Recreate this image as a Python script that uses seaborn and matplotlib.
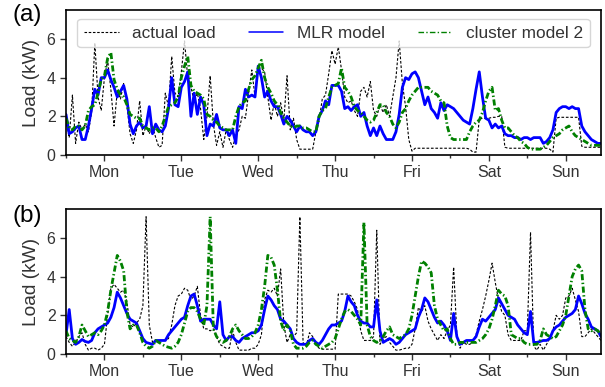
import numpy as np
import pandas as pd
import matplotlib
matplotlib.use("Agg")
import matplotlib.pyplot as plt
import seaborn as sns

# ---------------- data (hourly, Mon 00:00 .. Sun 23:00) ----------------
day_labels = ["Mon", "Tue", "Wed", "Thu", "Fri", "Sat", "Sun"]
series_names = ["actual load", "MLR model", "cluster model 2"]

# panel (a)
actual_a = [
    1.8, 0.9, 3.1, 0.6, 1.7, 1.3, 1.6, 1.2, 2.2, 5.8, 3.0, 2.3, 4.0, 4.9, 3.4, 1.5, 3.3, 2.9, 3.7, 2.6, 1.1, 0.6, 1.3, 2.8,
    1.0, 1.5, 1.1, 1.5, 0.9, 0.4, 0.5, 3.2, 2.5, 5.1, 3.2, 3.0, 4.3, 5.9, 4.0, 3.5, 2.8, 3.2, 2.4, 0.8, 2.0, 4.1, 1.6, 0.5,
    1.2, 0.4, 1.3, 0.8, 0.4, 1.0, 1.3, 2.0, 1.9, 3.2, 4.4, 3.0, 4.5, 4.5, 4.3, 3.0, 1.8, 2.7, 2.0, 2.7, 1.8, 4.1, 1.3, 1.9,
    0.8, 0.3, 0.3, 0.3, 0.3, 0.3, 1.2, 1.8, 2.9, 3.1, 4.2, 5.4, 4.7, 5.6, 4.4, 3.0, 2.7, 2.8, 2.3, 2.0, 3.3, 3.5, 3.0, 3.8,
    2.3, 2.0, 2.6, 2.2, 2.6, 2.0, 3.0, 4.0, 5.9, 3.7, 2.5, 0.8, 0.2, 0.35, 0.35, 0.35, 0.35, 0.35, 0.35, 0.35, 0.35, 0.35, 0.35, 0.35,
    0.35, 0.35, 0.35, 0.35, 0.35, 0.35, 0.3, 0.15, 0.15, 1.85, 1.9, 1.9, 1.9, 1.95, 1.95, 2.0, 2.0, 0.4, 0.35, 0.35, 0.35, 0.35, 0.35, 0.35,
    0.35, 0.35, 0.35, 0.35, 0.35, 0.35, 0.35, 0.3, 0.15, 1.9, 1.95, 1.95, 1.95, 1.95, 1.95, 1.95, 1.95, 0.45, 0.4, 0.4, 0.4, 0.4, 0.4, 0.4,
]
mlr_a = [
    2.1, 1.1, 1.2, 1.4, 1.5, 0.8, 0.8, 1.5, 2.4, 3.4, 3.1, 4.0, 4.0, 4.4, 3.9, 3.5, 3.0, 3.3, 3.6, 2.9, 1.6, 1.1, 1.5, 1.7,
    1.4, 1.5, 2.5, 1.1, 1.6, 1.3, 1.2, 1.5, 2.4, 4.0, 2.6, 2.5, 3.5, 3.8, 4.3, 2.0, 3.2, 2.1, 3.0, 2.6, 1.0, 1.6, 1.5, 2.1,
    1.4, 1.3, 1.3, 1.0, 1.3, 0.6, 2.5, 2.4, 3.4, 3.0, 3.1, 3.0, 4.6, 4.0, 3.0, 3.3, 2.8, 2.5, 2.5, 2.1, 1.6, 2.0, 1.8, 1.5,
    1.2, 1.5, 1.3, 1.2, 1.2, 1.0, 1.2, 2.0, 2.3, 2.8, 2.6, 3.6, 3.6, 3.6, 3.3, 2.4, 2.5, 2.3, 2.5, 2.6, 2.0, 2.2, 1.5, 1.0,
    1.4, 1.0, 1.5, 1.1, 0.8, 0.8, 0.8, 1.2, 2.1, 3.5, 4.0, 3.9, 4.2, 4.3, 4.0, 3.3, 2.6, 3.0, 2.4, 2.2, 1.9, 2.7, 2.3, 2.6,
    2.5, 2.4, 2.2, 2.0, 1.8, 1.7, 1.6, 2.4, 3.4, 4.3, 3.0, 1.9, 1.8, 1.4, 1.6, 1.4, 1.5, 1.1, 1.0, 1.0, 0.9, 0.9, 0.8, 0.9,
    0.9, 0.8, 0.9, 0.9, 0.9, 0.6, 0.7, 0.9, 1.3, 2.2, 2.4, 2.5, 2.5, 2.4, 2.5, 2.4, 2.4, 1.5, 1.2, 1.0, 0.8, 0.7, 0.6, 0.6,
]
cluster_a = [
    1.9, 1.4, 1.3, 1.5, 1.5, 1.3, 1.5, 2.3, 2.5, 2.6, 3.2, 3.9, 4.1, 5.0, 5.3, 3.9, 3.4, 3.1, 3.0, 2.6, 2.1, 2.0, 1.9, 1.9,
    1.5, 1.4, 1.3, 1.4, 1.4, 1.2, 1.5, 2.0, 2.5, 2.6, 2.7, 3.0, 4.0, 4.6, 5.1, 3.6, 3.3, 3.2, 3.1, 2.9, 2.1, 2.0, 1.8, 1.7,
    1.5, 1.4, 1.3, 1.3, 1.3, 2.0, 2.5, 2.7, 2.8, 3.4, 3.9, 4.1, 4.5, 4.9, 4.0, 3.5, 3.2, 2.8, 2.6, 2.2, 1.9, 1.7, 1.5, 1.4,
    1.5, 1.5, 1.4, 1.4, 1.3, 1.2, 1.2, 2.0, 2.3, 2.4, 3.0, 3.5, 3.6, 3.7, 4.5, 3.5, 3.3, 3.0, 2.5, 2.3, 2.2, 2.0, 1.8, 1.7,
    1.8, 2.2, 2.6, 2.6, 2.2, 2.0, 1.6, 1.4, 1.7, 2.2, 2.4, 2.8, 3.1, 3.3, 3.5, 3.5, 3.5, 3.5, 3.3, 3.2, 3.1, 2.8, 2.7, 1.5,
    0.9, 0.8, 0.8, 0.8, 0.8, 0.8, 1.2, 1.5, 1.7, 1.8, 2.2, 2.8, 3.3, 3.5, 2.3, 2.4, 1.8, 1.4, 1.4, 1.2, 1.0, 0.9, 0.7, 0.6,
    0.4, 0.3, 0.3, 0.3, 0.3, 0.4, 0.5, 0.7, 0.9, 1.0, 1.1, 1.3, 1.4, 1.5, 1.2, 1.0, 0.9, 0.8, 0.7, 0.6, 0.5, 0.5, 0.5, 0.5,
]

# panel (b)
actual_b = [
    0.9, 0.6, 0.4, 0.6, 0.9, 1.1, 0.5, 0.2, 0.3, 0.3, 0.2, 0.3, 0.5, 2.0, 3.4, 3.6, 3.4, 3.2, 3.3, 2.7, 1.5, 1.4, 1.6, 1.8,
    2.5, 7.1, 1.5, 0.6, 0.7, 0.7, 0.7, 0.7, 0.8, 1.5, 2.5, 3.0, 3.1, 3.4, 3.3, 2.8, 3.0, 3.5, 2.0, 1.3, 1.3, 1.2, 1.3, 0.9,
    0.5, 0.4, 0.3, 0.3, 1.2, 0.6, 0.2, 0.2, 0.2, 0.2, 0.3, 0.3, 0.5, 1.0, 2.8, 3.3, 3.2, 3.4, 3.0, 4.4, 1.5, 0.6, 1.0, 0.9,
    1.1, 7.1, 0.6, 0.4, 1.1, 0.9, 0.5, 0.3, 0.25, 0.25, 0.25, 0.25, 0.25, 3.1, 3.1, 3.1, 3.1, 3.0, 2.7, 2.3, 1.2, 0.7, 0.7, 0.7,
    0.9, 6.4, 0.5, 0.8, 0.9, 0.6, 0.4, 0.2, 0.2, 0.25, 0.3, 0.3, 0.5, 1.3, 2.4, 2.2, 2.5, 1.7, 1.3, 1.0, 0.7, 1.0, 0.8, 1.2,
    1.5, 4.5, 1.0, 0.3, 0.6, 0.5, 0.5, 0.6, 1.0, 1.7, 2.3, 3.0, 3.8, 4.7, 3.7, 2.8, 2.2, 2.0, 1.0, 0.7, 0.7, 0.7, 0.7, 1.2,
    1.2, 6.3, 0.4, 0.2, 0.5, 0.2, 0.5, 0.8, 1.2, 2.0, 1.8, 2.0, 2.9, 3.0, 3.4, 2.8, 2.2, 0.9, 0.9, 1.1, 1.3, 1.1, 0.9, 0.7,
]
mlr_b = [
    1.0, 2.3, 0.8, 0.5, 0.6, 0.75, 0.65, 0.6, 0.7, 1.1, 1.3, 1.4, 1.5, 1.6, 1.9, 2.4, 3.2, 2.9, 2.5, 2.1, 1.8, 1.7, 1.6, 1.2,
    0.8, 0.6, 0.55, 0.5, 0.7, 0.7, 0.7, 0.7, 1.0, 1.2, 1.4, 1.6, 1.8, 1.9, 2.5, 3.0, 3.1, 2.5, 1.7, 1.8, 1.8, 1.8, 1.5, 1.3,
    2.7, 1.0, 0.7, 0.9, 0.9, 0.7, 0.6, 0.8, 0.9, 1.0, 1.1, 1.1, 1.2, 1.5, 2.3, 3.0, 2.8, 2.5, 2.3, 1.8, 1.7, 1.5, 1.3, 0.8,
    0.6, 0.5, 0.5, 0.5, 0.7, 0.8, 0.6, 0.5, 0.7, 1.0, 1.3, 1.5, 1.5, 1.6, 1.7, 2.2, 3.0, 2.7, 2.5, 2.0, 1.7, 1.6, 1.6, 1.4,
    1.4, 2.8, 1.2, 0.6, 0.7, 0.8, 0.7, 0.5, 0.6, 0.8, 1.0, 1.1, 1.2, 1.3, 1.9, 2.3, 2.9, 2.7, 2.3, 1.9, 1.6, 1.7, 1.5, 1.2,
    0.7, 2.1, 0.9, 0.5, 0.6, 0.7, 0.7, 0.7, 0.9, 1.4, 1.8, 1.7, 1.9, 2.1, 2.3, 2.9, 2.6, 2.3, 2.0, 1.9, 1.8, 1.5, 1.3, 1.1,
    1.0, 2.2, 0.6, 0.6, 0.65, 0.7, 0.7, 0.8, 1.2, 1.4, 1.5, 1.7, 1.9, 2.0, 2.1, 2.3, 3.0, 2.6, 2.1, 1.8, 1.4, 1.3, 1.2, 0.9,
]
cluster_b = [
    1.2, 0.8, 0.7, 0.6, 0.9, 1.5, 1.2, 0.9, 1.0, 1.1, 1.0, 1.2, 1.5, 2.2, 3.3, 4.2, 5.1, 4.8, 4.3, 2.2, 1.3, 1.5, 1.5, 1.1,
    0.6, 0.4, 0.3, 0.4, 0.7, 0.6, 0.5, 0.4, 0.35, 0.3, 0.4, 0.6, 1.0, 1.6, 2.2, 2.4, 2.4, 2.2, 1.8, 1.5, 2.5, 7.1, 1.3, 0.9,
    0.7, 0.6, 0.7, 0.9, 1.3, 1.5, 1.2, 1.0, 0.8, 0.8, 0.9, 1.1, 1.5, 2.3, 3.5, 5.1, 5.0, 4.6, 3.3, 1.7, 1.2, 1.5, 1.2, 0.5,
    0.3, 0.3, 0.3, 0.4, 0.6, 0.7, 0.5, 0.4, 0.3, 0.4, 0.5, 0.6, 0.8, 1.3, 1.8, 2.2, 2.3, 2.2, 2.0, 1.8, 1.5, 6.8, 1.5, 0.9,
    0.7, 0.6, 0.7, 0.9, 1.2, 1.4, 1.0, 0.9, 0.8, 0.9, 1.0, 1.3, 2.0, 3.0, 4.0, 4.8, 4.7, 4.5, 4.2, 2.5, 1.8, 1.5, 1.2, 1.3,
    0.8, 0.5, 0.5, 0.6, 0.6, 0.6, 0.6, 0.6, 0.6, 0.7, 0.8, 1.0, 1.3, 1.8, 2.5, 3.3, 3.1, 3.0, 2.5, 1.0, 0.9, 0.8, 0.8, 0.6,
    0.5, 0.5, 0.5, 0.5, 0.7, 1.3, 1.0, 0.9, 0.8, 0.9, 1.2, 1.5, 2.0, 3.0, 4.0, 4.4, 4.6, 4.3, 2.3, 1.3, 1.2, 1.3, 1.2, 1.0,
]

hours = np.arange(len(actual_a))

# ---------------- style ----------------
sns.set_theme(style="ticks")
plt.rcParams["font.family"] = ["Liberation Sans", "DejaVu Sans"]
plt.rcParams["axes.edgecolor"] = "black"

line_styles = {
    "actual load": dict(color="black", linewidth=0.8, linestyle=(0, (2.4, 1.6))),
    "MLR model": dict(color="#0000ff", linewidth=2.0, linestyle="-"),
    "cluster model 2": dict(color="#008000", linewidth=2.0, linestyle=(0, (2.2, 0.9, 0.5, 0.9))),
}
legend_styles = {
    "actual load": dict(linewidth=0.8, linestyle=(0, (2.3, 1.5))),
    "MLR model": dict(linewidth=1.1, linestyle="-"),
    "cluster model 2": dict(linewidth=1.0, linestyle=(0, (4.0, 1.6, 1.0, 1.6))),
}

W, H = 605, 387
fig = plt.figure(figsize=(W / 100, H / 100), dpi=100)
ax_a = fig.add_axes([66 / W, 1 - 155 / H, (601 - 66) / W, (155 - 10) / H])
ax_b = fig.add_axes([66 / W, 1 - 354 / H, (601 - 66) / W, (354 - 209) / H])

panels = [
    (ax_a, {"actual load": actual_a, "MLR model": mlr_a, "cluster model 2": cluster_a}),
    (ax_b, {"actual load": actual_b, "MLR model": mlr_b, "cluster model 2": cluster_b}),
]

for ax, data in panels:
    df = pd.DataFrame({"hour": hours, **data})
    for name in series_names:
        sns.lineplot(data=df, x="hour", y=name, ax=ax, label=name,
                     errorbar=None, **line_styles[name])
    ax.set_xlim(0, 167)
    ax.set_ylim(0, 7.5)
    ax.set_yticks([0, 2, 4, 6])
    ax.set_xticks(np.arange(12, 168, 24))
    ax.set_xticklabels(day_labels)
    ax.set_xticks(np.arange(0, 168, 24), minor=True)
    ax.tick_params(axis="both", which="major", length=4.5, width=1.0, labelsize=11.5,
                   colors="0.2", pad=3)
    ax.tick_params(axis="x", which="minor", length=2.5, width=1.0, color="0.2")
    ax.set_xlabel("")
    ax.set_ylabel("Load (kW)", fontsize=13.8, color="0.2", labelpad=5)
    for sp in ax.spines.values():
        sp.set_linewidth(1.2)
        sp.set_color("black")

if ax_b.get_legend() is not None:
    ax_b.get_legend().remove()

leg_a = ax_a.legend(loc="upper center", ncol=3, fontsize=12.4, frameon=True,
                    columnspacing=1.9, handlelength=2.0, borderaxespad=0.5)
for t in leg_a.get_texts():
    t.set_color("0.2")
for handle, name in zip(leg_a.legend_handles, series_names):
    handle.set_linewidth(legend_styles[name]["linewidth"])
    handle.set_linestyle(legend_styles[name]["linestyle"])

fig.text(13 / W, 1 - 4 / H, "(a)", fontsize=17.5, va="top", ha="left", color="black")
fig.text(13 / W, 1 - 205 / H, "(b)", fontsize=17.5, va="top", ha="left", color="black")

fig.savefig("out.png", dpi=100)
